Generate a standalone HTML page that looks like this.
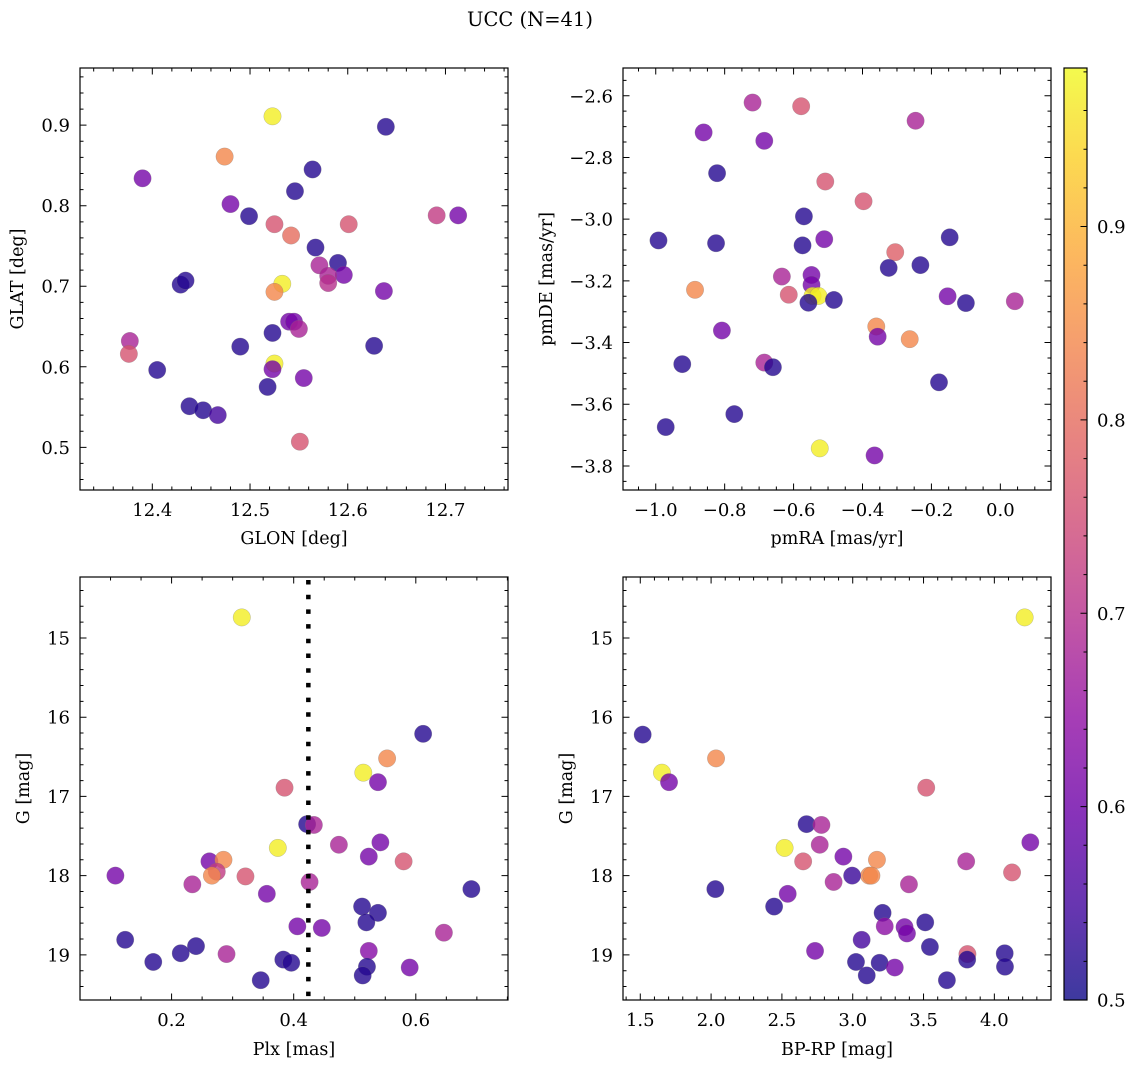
<!DOCTYPE html>
<html><head><meta charset="utf-8"><style>
body{margin:0;background:#fff;}
svg{display:block;font-family:"DejaVu Serif","Liberation Serif",serif;}
</style></head><body>
<svg id="fig" width="1136" height="1067" viewBox="0 0 1136 1067" xmlns="http://www.w3.org/2000/svg">
<text x="530" y="26" font-size="19.5" text-anchor="middle">UCC (N=41)</text>
</svg>
<script>
// ---- data ----
const glon=[12.523,12.639,12.474,12.390,12.564,12.546,12.480,12.499,12.525,12.542,12.601,12.691,12.713,12.567,12.590,12.571,12.596,12.580,12.580,12.429,12.434,12.533,12.525,12.637,12.540,12.545,12.550,12.523,12.490,12.377,12.376,12.405,12.525,12.523,12.627,12.518,12.555,12.438,12.452,12.467,12.551];
const glat=[0.911,0.898,0.861,0.834,0.845,0.818,0.802,0.787,0.777,0.763,0.777,0.788,0.788,0.748,0.729,0.726,0.714,0.713,0.704,0.702,0.707,0.703,0.693,0.694,0.656,0.656,0.647,0.642,0.625,0.632,0.616,0.596,0.604,0.597,0.626,0.575,0.586,0.551,0.546,0.540,0.507];
const c1=[0.97,0.52,0.84,0.61,0.52,0.52,0.61,0.52,0.76,0.80,0.76,0.72,0.61,0.52,0.52,0.68,0.61,0.68,0.70,0.52,0.52,0.97,0.84,0.61,0.61,0.61,0.68,0.52,0.52,0.68,0.76,0.52,0.97,0.61,0.52,0.52,0.61,0.52,0.52,0.55,0.76];
const pmra=[-0.719,-0.578,-0.246,-0.861,-0.685,-0.822,-0.508,-0.397,-0.570,-0.992,-0.825,-0.511,-0.147,-0.305,-0.574,-0.324,-0.232,-0.634,-0.548,-0.548,-0.886,-0.614,-0.545,-0.528,-0.557,-0.483,-0.153,-0.100,0.042,-0.360,-0.808,-0.356,-0.263,-0.923,-0.685,-0.660,-0.178,-0.772,-0.971,-0.524,-0.365];
const pmde=[-2.622,-2.634,-2.681,-2.719,-2.746,-2.851,-2.878,-2.942,-2.991,-3.069,-3.078,-3.065,-3.059,-3.107,-3.085,-3.158,-3.149,-3.186,-3.181,-3.213,-3.229,-3.245,-3.249,-3.249,-3.271,-3.262,-3.250,-3.272,-3.266,-3.348,-3.361,-3.381,-3.389,-3.470,-3.465,-3.480,-3.529,-3.632,-3.674,-3.743,-3.766];
const c2=[0.68,0.76,0.68,0.61,0.61,0.52,0.76,0.76,0.52,0.52,0.52,0.61,0.52,0.78,0.52,0.52,0.52,0.68,0.61,0.61,0.84,0.76,0.97,0.97,0.52,0.52,0.61,0.52,0.68,0.84,0.61,0.61,0.84,0.52,0.68,0.52,0.52,0.52,0.52,0.97,0.61];
const plx=[0.315,0.612,0.553,0.514,0.538,0.385,0.422,0.433,0.474,0.542,0.374,0.523,0.262,0.285,0.580,0.274,0.266,0.108,0.321,0.234,0.426,0.691,0.356,0.512,0.538,0.519,0.406,0.446,0.646,0.124,0.240,0.523,0.215,0.290,0.170,0.383,0.396,0.520,0.590,0.513,0.346];
const gmag3=[14.74,16.21,16.52,16.70,16.82,16.89,17.35,17.36,17.61,17.58,17.65,17.76,17.82,17.80,17.82,17.95,18.00,18.00,18.01,18.11,18.08,18.17,18.23,18.39,18.47,18.59,18.64,18.66,18.72,18.81,18.89,18.95,18.98,18.99,19.09,19.06,19.10,19.15,19.16,19.26,19.32];
const c3=[0.97,0.52,0.84,0.97,0.61,0.76,0.52,0.68,0.68,0.61,0.97,0.61,0.61,0.84,0.76,0.72,0.84,0.61,0.76,0.68,0.68,0.52,0.61,0.52,0.52,0.52,0.61,0.61,0.68,0.52,0.52,0.63,0.52,0.68,0.52,0.52,0.52,0.52,0.61,0.52,0.52];
const bprp=[4.214,1.517,2.035,1.653,1.703,3.519,2.674,2.779,4.254,2.519,2.767,2.934,3.801,3.171,2.650,4.125,3.116,3.132,2.996,2.865,3.397,2.030,2.541,2.445,3.211,3.512,3.226,3.366,3.383,3.063,3.545,2.734,4.073,3.810,3.023,3.190,3.808,3.297,4.075,3.099,3.665];
const gmag4=[14.74,16.22,16.52,16.70,16.82,16.89,17.35,17.36,17.58,17.65,17.61,17.76,17.82,17.80,17.82,17.96,18.00,18.00,18.00,18.08,18.11,18.17,18.23,18.39,18.47,18.59,18.64,18.65,18.73,18.81,18.90,18.95,18.98,18.99,19.09,19.10,19.06,19.16,19.15,19.26,19.32];
const c4=[0.97,0.52,0.84,0.97,0.61,0.76,0.52,0.68,0.61,0.97,0.68,0.61,0.68,0.84,0.76,0.76,0.84,0.84,0.54,0.68,0.68,0.52,0.61,0.52,0.52,0.52,0.64,0.61,0.61,0.55,0.52,0.61,0.52,0.76,0.52,0.52,0.52,0.61,0.52,0.52,0.52];
const plxLine=[0.424];
const cbTicks=[0.5,0.6,0.7,0.8,0.9];
const cMin=0.5, cMax=0.982;

const NS='http://www.w3.org/2000/svg';
const svg=document.getElementById('fig');
const FS=18;
function mk(tag,attrs,parent){const e=document.createElementNS(NS,tag);for(const k in attrs)e.setAttribute(k,attrs[k]);(parent||svg).appendChild(e);return e;}
const stops=[[0,'#0d0887'],[0.1,'#41049d'],[0.2,'#6a00a8'],[0.3,'#8f0da4'],[0.4,'#b12a90'],[0.5,'#cc4778'],[0.6,'#e16462'],[0.7,'#f2844b'],[0.8,'#fca636'],[0.9,'#fcce25'],[1,'#f0f921']];
function hx(h){return [1,3,5].map(i=>parseInt(h.substr(i,2),16));}
function plasma(t){t=Math.max(0,Math.min(1,t));for(let i=1;i<stops.length;i++){if(t<=stops[i][0]){const a=stops[i-1],b=stops[i];const f=(t-a[0])/(b[0]-a[0]);const A=hx(a[1]),B=hx(b[1]);return 'rgb('+A.map((v,j)=>Math.round(v+(B[j]-v)*f)).join(',')+')';}}return stops[10][1];}
function cnorm(v){return (v-cMin)/(cMax-cMin);}
function fmt(v,d){const s=Math.abs(v).toFixed(d);return (v<-1e-9?'\u2212':'')+s;}
function range(a,b,s){const r=[];for(let v=a;v<=b+s*1e-6;v+=s)r.push(+v.toFixed(6));return r;}

function panel(o){
  const g=mk('g',{});
  
  
  const sx=v=>o.x+(v-o.xmin)/(o.xmax-o.xmin)*o.w;
  const sy=o.inv? (v=>o.y+(v-o.ymin)/(o.ymax-o.ymin)*o.h) : (v=>o.y+o.h-(v-o.ymin)/(o.ymax-o.ymin)*o.h);
  const pg=mk('g',{},g);
  
  
  for(let i=0;i<o.xs.length;i++){
    const c=mk('circle',{cx:sx(o.xs[i]),cy:sy(o.ys[i]),r:8.7,fill:plasma(cnorm(o.cs[i])),'fill-opacity':0.8,stroke:'#777','stroke-width':0.4,'stroke-opacity':0.6},pg);
    
    
  }
  if(o.vline){o.vline.forEach(v=>{const l=mk('line',{x1:sx(v),x2:sx(v),y1:o.y+3,y2:o.y+o.h,stroke:'#000','stroke-width':4.5,'stroke-dasharray':'4.5 10.2'},g);
    
    });}
  const fr=mk('rect',{x:o.x,y:o.y,width:o.w,height:o.h,fill:'none',stroke:'#000','stroke-width':1.2},g);
  
  
  let d='';
  const inX=v=>v>=o.xmin&&v<=o.xmax, inY=v=>v>=Math.min(o.ymin,o.ymax)&&v<=Math.max(o.ymin,o.ymax);
  o.xminor.filter(inX).forEach(v=>{const X=sx(v);d+=`M${X},${o.y+o.h}v-3.5M${X},${o.y}v3.5`;});
  o.yminor.filter(inY).forEach(v=>{const Y=sy(v);d+=`M${o.x},${Y}h3.5M${o.x+o.w},${Y}h-3.5`;});
  o.xmajor.forEach(v=>{const X=sx(v);d+=`M${X},${o.y+o.h}v-6.5M${X},${o.y}v6.5`;});
  o.ymajor.forEach(v=>{const Y=sy(v);d+=`M${o.x},${Y}h6.5M${o.x+o.w},${Y}h-6.5`;});
  const tk=mk('path',{d:d,stroke:'#000','stroke-width':1,fill:'none'},g);
  
  
  o.xmajor.forEach(v=>{const t=mk('text',{x:sx(v),y:o.y+o.h+26,'font-size':FS,'text-anchor':'middle'},g);t.textContent=fmt(v,o.xd);
    
    });
  o.ymajor.forEach(v=>{const t=mk('text',{x:o.x-10,y:sy(v)+6.5,'font-size':FS,'text-anchor':'end'},g);t.textContent=fmt(v,o.yd);
    
    });
  const xt=mk('text',{x:o.x+o.w/2,y:o.xty,'font-size':17.5,'text-anchor':'middle'},g);xt.textContent=o.xlabel;
  
  
  const yt=mk('text',{x:0,y:0,'font-size':17.5,'text-anchor':'middle',transform:`translate(${o.ytx},${o.y+o.h/2}) rotate(-90)`},g);yt.textContent=o.ylabel;
  
  
}
panel({name:'glon-glat-panel',x:80,y:68,w:428,h:422,xmin:12.326,xmax:12.764,ymin:0.447,ymax:0.971,xs:glon,ys:glat,cs:c1,
  xmajor:range(12.4,12.7,0.1),xminor:range(12.34,12.76,0.02),ymajor:range(0.5,0.9,0.1),yminor:range(0.46,0.96,0.02),xd:1,yd:1,
  xlabel:'GLON [deg]',ylabel:'GLAT [deg]',xty:544,ytx:23});
panel({name:'pm-panel',x:623,y:68,w:428,h:422,xmin:-1.095,xmax:0.147,ymin:-3.878,ymax:-2.510,xs:pmra,ys:pmde,cs:c2,
  xmajor:range(-1.0,0.0,0.2),xminor:range(-1.05,0.1,0.05),ymajor:range(-3.8,-2.6,0.2),yminor:range(-3.85,-2.55,0.05),xd:1,yd:1,
  xlabel:'pmRA [mas/yr]',ylabel:'pmDE [mas/yr]',xty:544,ytx:552});
panel({name:'plx-g-panel',x:80,y:577,w:428,h:423,xmin:0.050,xmax:0.751,ymin:14.23,ymax:19.57,inv:true,xs:plx,ys:gmag3,cs:c3,vline:plxLine,
  xmajor:range(0.2,0.6,0.2),xminor:range(0.05,0.75,0.05),ymajor:range(15,19,1),yminor:range(14.4,19.4,0.2),xd:1,yd:0,
  xlabel:'Plx [mas]',ylabel:'G [mag]',xty:1055,ytx:29});
panel({name:'cmd-panel',x:623,y:577,w:428,h:423,xmin:1.378,xmax:4.40,ymin:14.23,ymax:19.57,inv:true,xs:bprp,ys:gmag4,cs:c4,
  xmajor:range(1.5,4.0,0.5),xminor:range(1.4,4.4,0.1),ymajor:range(15,19,1),yminor:range(14.4,19.4,0.2),xd:1,yd:0,
  xlabel:'BP-RP [mag]',ylabel:'G [mag]',xty:1055,ytx:572});

const cb=mk('g',{});


const defs=mk('defs',{},cb);
const lg=mk('linearGradient',{id:'cbg',x1:0,y1:1,x2:0,y2:0},defs);
for(let i=0;i<=20;i++){const t=i/20;mk('stop',{offset:t,'stop-color':plasma(t),'stop-opacity':0.8},lg);}
const cbx=1064,cbw=23,cbt=68,cbb=1000;
const cy=v=>cbb-(v-cMin)/(cMax-cMin)*(cbb-cbt);
mk('rect',{x:cbx,y:cbt,width:cbw,height:cbb-cbt,fill:'url(#cbg)',stroke:'#000','stroke-width':1.2},cb);
let cd='';
range(0.5,0.98,0.02).forEach(v=>{cd+=`M${cbx+cbw},${cy(v)}h-3.5`;});
cbTicks.forEach(v=>{cd+=`M${cbx+cbw},${cy(v)}h-6.5`;});
mk('path',{d:cd,stroke:'#000','stroke-width':1},cb);
cbTicks.forEach(v=>{const t=mk('text',{x:1097,y:cy(v)+6.5,'font-size':FS},cb);t.textContent=v.toFixed(1);
  
  });
</script>
</body></html>
